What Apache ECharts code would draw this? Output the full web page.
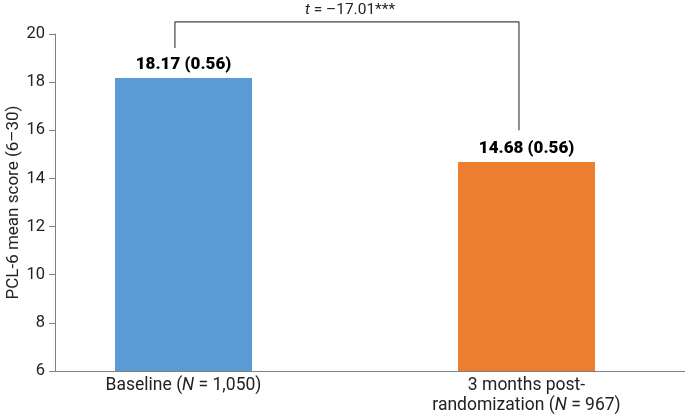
<!DOCTYPE html>
<html>
<head>
<meta charset="utf-8">
<script src="https://cdn.jsdelivr.net/npm/echarts@6/dist/echarts.min.js"></script>
<style>html,body{margin:0;padding:0;background:#fff}#c{width:685px;height:416px}</style>
</head>
<body>
<div id="c"></div>
<script>
// Data
const categoryLines = [['Baseline ('], ['3 months post-', 'randomization (']];
const groupN = ['1,050', '967'];
const meanScores = [18.17, 14.68];
const standardErrors = [0.56, 0.56];
const barColors = ['#5B9BD5', '#ED7D31'];
const tStat = '–17.01***';
const yAxisName = 'PCL-6 mean score (6–30)';
const yMin = 6, yMax = 20, yStep = 2;
// Bracket anchors (data coords)
const bracketX = [-0.025, 0.978];
const bracketY = [19.42, 20.5, 16.0];

const chart = echarts.init(document.getElementById('c'), null, {renderer: 'canvas'});
const FONT = 'Roboto';

const barData = meanScores.map((v, i) => ({
  value: [i, v],
  itemStyle: {color: barColors[i]}
}));

const bracketData = [
  [bracketX[0], bracketY[0]],
  [bracketX[0], bracketY[1]],
  [bracketX[1], bracketY[1]],
  [bracketX[1], bracketY[2]]
];

chart.setOption({
  animation: false,
  textStyle: {fontFamily: FONT},
  title: {
    text: '{i|t}{r| = ' + tStat + '}',
    left: 345, top: -3, textAlign: 'center',
    textStyle: {
      fontWeight: 'normal',
      rich: {
        i: {fontStyle: 'italic', fontWeight: 'normal', fontSize: 15.5, color: '#222', fontFamily: FONT},
        r: {fontSize: 15.5, fontWeight: 'normal', color: '#222', fontFamily: FONT}
      }
    }
  },
  grid: {left: 55, right: 0, top: 34, bottom: 45, containLabel: false, outerBoundsMode: 'none'},
  xAxis: {
    type: 'value',
    min: -0.3746, max: 1.462,
    splitLine: {show: false},
    axisTick: {show: false},
    axisLine: {show: true, onZero: false, lineStyle: {color: '#808080', width: 1}},
    axisLabel: {
      customValues: [0, 1],
      margin: 5,
      color: '#222',
      lineHeight: 20,
      formatter: function (v) {
        const i = Math.round(v);
        const lines = categoryLines[i];
        let s = '';
        for (let k = 0; k < lines.length - 1; k++) s += '{r|' + lines[k] + '}\n';
        s += '{r|' + lines[lines.length - 1] + '}{i|N}{r| = ' + groupN[i] + ')}';
        return s;
      },
      rich: {
        r: {fontSize: 17.5, color: '#222', fontFamily: FONT, lineHeight: 20},
        i: {fontSize: 17.5, color: '#222', fontFamily: FONT, fontStyle: 'italic', lineHeight: 20}
      }
    }
  },
  yAxis: {
    type: 'value',
    min: yMin, max: yMax, interval: yStep,
    name: yAxisName,
    nameLocation: 'middle',
    nameGap: 33,
    nameMoveOverlap: false,
    nameTextStyle: {fontSize: 17, color: '#222', fontFamily: FONT},
    splitLine: {show: false},
    axisLine: {show: true, onZero: false, lineStyle: {color: '#808080', width: 1}},
    axisTick: {show: true, length: 6, lineStyle: {color: '#808080'}},
    axisLabel: {fontSize: 16.5, color: '#222', margin: 10, fontFamily: FONT}
  },
  series: [
    {
      type: 'bar',
      data: barData,
      barWidth: 137,
      label: {
        show: true,
        position: 'top',
        distance: 5,
        fontSize: 17,
        fontWeight: 900,
        color: '#000',
        fontFamily: FONT,
        formatter: function (p) {
          return meanScores[p.dataIndex].toFixed(2) + ' (' + standardErrors[p.dataIndex].toFixed(2) + ')';
        }
      }
    },
    {
      type: 'line',
      data: bracketData,
      symbol: 'none',
      clip: false,
      silent: true,
      lineStyle: {color: '#444', width: 1.2}
    }
  ]
});
</script>
</body>
</html>
